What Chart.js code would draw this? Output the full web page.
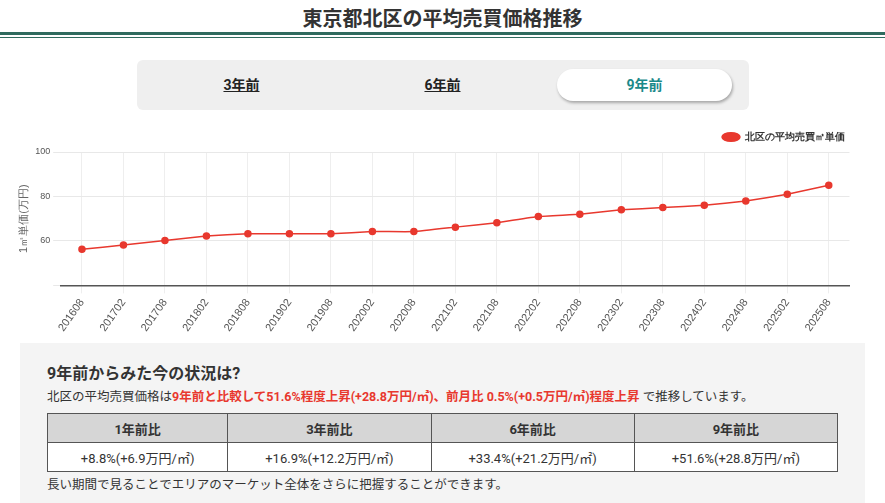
<!DOCTYPE html>
<html><head><meta charset="utf-8">
<script src="https://cdn.jsdelivr.net/npm/chart.js@4"></script>
<style>
body{margin:0;font-family:Roboto,"Noto Sans CJK JP",sans-serif;background:#fff;color:#333;width:885px;height:503px;overflow:hidden}
h1{margin:0;padding-top:3px;height:27px;text-align:center;font-size:20px;font-weight:bold;color:#333}
.rule{border-top:3px solid #2f6b5e;border-bottom:1px solid #2f6b5e;height:2px;margin-top:2px}
.tabs{position:absolute;left:137px;top:60px;width:612px;height:50px;background:#efefef;border-radius:6px}
.tab{position:absolute;top:9px;height:32px;line-height:32px;width:175px;text-align:center;font-weight:bold;font-size:14px;text-decoration:underline;color:#222}
.tab.on{background:#fff;border-radius:16px;color:#1b8a8a;text-decoration:none;box-shadow:1px 2px 3px rgba(0,0,0,.3)}
.wrap{position:absolute;left:15px;top:122px;width:840px;height:215px}
.panel{position:absolute;left:20px;top:343px;width:845px;height:170px;background:#f4f4f4}
.panel h2{margin:20px 0 0 27px;font-size:16px;line-height:22px}
.panel p{margin:3px 0 0 27px;font-size:12.5px;line-height:18px}
.red{color:#e8382e;font-weight:bold}
table{margin:7px 0 0 27px;border-collapse:collapse;width:791px;font-size:13px;background:#fff}
th,td{border:1px solid #555;text-align:center;height:28px;padding:0}
th{background:#d6d6d6}
</style></head><body>
<h1>東京都北区の平均売買価格推移</h1>
<div class="rule"></div>
<div class="tabs">
<div class="tab" style="left:17px">3年前</div>
<div class="tab" style="left:218px">6年前</div>
<div class="tab on" style="left:420px">9年前</div>
</div>
<div class="wrap"><canvas id="c"></canvas></div>
<div class="panel">
<h2>9年前からみた今の状況は?</h2>
<p>北区の平均売買価格は<span class="red">9年前と比較して51.6%程度上昇(+28.8万円/㎡)、前月比 0.5%(+0.5万円/㎡)程度上昇</span> で推移しています。</p>
<table><tr><th>1年前比</th><th>3年前比</th><th>6年前比</th><th>9年前比</th></tr>
<tr><td>+8.8%(+6.9万円/㎡)</td><td>+16.9%(+12.2万円/㎡)</td><td>+33.4%(+21.2万円/㎡)</td><td>+51.6%(+28.8万円/㎡)</td></tr></table>
<p style="margin-top:4px">長い期間で見ることでエリアのマーケット全体をさらに把握することができます。</p>
</div>
<script>
const months = ['201608','201702','201708','201802','201808','201902','201908','202002','202008','202102','202108','202202','202208','202302','202308','202402','202408','202502','202508'];
const prices = [56.2,58.2,60.2,62.2,63.2,63.2,63.2,64.2,64.2,66.2,68.2,71,72,74,75,76,78,81,85];

new Chart(document.getElementById('c'), {
    type: 'line',
    data: {
        labels: months,
        datasets: [{
            label: '北区の平均売買㎡単価',
            data: prices,
            borderColor: '#e8382e',
            backgroundColor: '#e8382e',
            borderWidth: 1.5,
            pointRadius: 3,
            tension: 0.1
        }]
    },
    options: {
        responsive: true,
        maintainAspectRatio: false,
        animation: false,
        layout: {padding: {left: 0}},
        plugins: {
            legend: {
                position: 'top',
                align: 'end',
                labels: {boxWidth: 18, boxHeight: 6, font: {size: 10, weight: 'bold'}, color: '#333',
                    generateLabels: chart => {
                        const items = Chart.defaults.plugins.legend.labels.generateLabels(chart);
                        items.forEach(i => { i.pointStyle = 'circle'; });
                        return items;
                    },
                    usePointStyle: true, pointStyleWidth: 18}
            }
        },
        scales: {
            x: {
                offset: true,
                grid: {color: '#eee'},
                border: {color: '#555', width: 1.5},
                ticks: {maxRotation: 55, minRotation: 55, color: '#555', font: {size: 11}}
            },
            y: {
                min: 40, max: 100,
                grid: {color: '#e8e8e8'},
                border: {display: false},
                ticks: {stepSize: 20, color: '#555', font: {size: 9},
                    callback: v => v === 40 ? '' : v},
                title: {display: true, text: '1㎡単価(万円)', color: '#666', font: {size: 11}, padding: 2}
            }
        }
    }
});
</script>
</body></html>
